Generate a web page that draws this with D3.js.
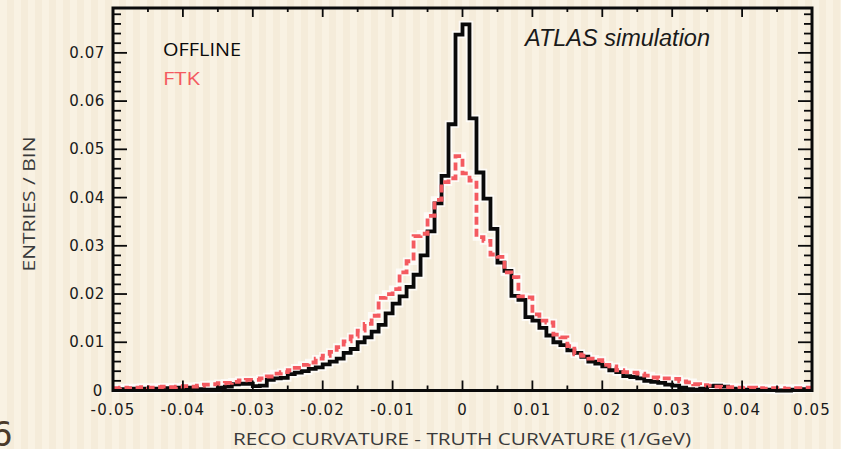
<!DOCTYPE html>
<html>
<head>
<meta charset="utf-8">
<script src="https://cdn.jsdelivr.net/npm/d3@7"></script>
<style>
  html, body { margin: 0; padding: 0; background: #f8f1e2; }
  svg { display: block; }
</style>
</head>
<body>
<svg id="chart" width="841" height="449"></svg>
<script>
"use strict";

// Data: 100 bins of 0.001 from -0.05 to 0.05
const BIN_START = -0.05;
const BIN_WIDTH = 0.001;
const OFFLINE = [
  0.0003, 0.0003, 0.0004, 0.0003, 0.0004, 0.0003, 0.0004, 0.0005, 0.0004, 0.0006,
  0.0005, 0.0006, 0.0003, 0.0002, 0.0002, 0.0006, 0.0008, 0.0013, 0.0014, 0.0014,
  0.0009, 0.0010, 0.0022, 0.0025, 0.0026, 0.0034, 0.0037, 0.0040, 0.0045, 0.0048,
  0.0054, 0.0060, 0.0066, 0.0078, 0.0086, 0.0100, 0.0110, 0.0122, 0.0136, 0.0160,
  0.0180, 0.0195, 0.0215, 0.0240, 0.0280, 0.0330, 0.0388, 0.0445, 0.0552, 0.0738,
  0.0759, 0.0564, 0.0452, 0.0398, 0.0335, 0.0265, 0.0248, 0.0196, 0.0188, 0.0152,
  0.0145, 0.0130, 0.0114, 0.0100, 0.0094, 0.0083, 0.0078, 0.0070, 0.0060, 0.0056,
  0.0050, 0.0042, 0.0038, 0.0030, 0.0028, 0.0025, 0.0020, 0.0018, 0.0016, 0.0012,
  0.0010, 0.0006, 0.0003, 0.0002, 0.0004, 0.0009, 0.0010, 0.0008, 0.0004, 0.0003,
  0.0002, 0.0003, 0.0002, 0.0002, 0.0001, 0.0000, 0.0000, 0.0002, 0.0003, 0.0003
];
const FTK = [
  0.0005, 0.0006, 0.0005, 0.0006, 0.0007, 0.0006, 0.0007, 0.0008, 0.0007, 0.0008,
  0.0009, 0.0008, 0.0010, 0.0012, 0.0013, 0.0015, 0.0016, 0.0018, 0.0021, 0.0022,
  0.0022, 0.0025, 0.0029, 0.0035, 0.0038, 0.0042, 0.0047, 0.0053, 0.0058, 0.0066,
  0.0072, 0.0080, 0.0090, 0.0102, 0.0112, 0.0124, 0.0138, 0.0155, 0.0192, 0.0200,
  0.0210, 0.0245, 0.0268, 0.0320, 0.0325, 0.0362, 0.0395, 0.0432, 0.0440, 0.0486,
  0.0450, 0.0435, 0.0318, 0.0310, 0.0282, 0.0277, 0.0245, 0.0235, 0.0195, 0.0193,
  0.0158, 0.0145, 0.0141, 0.0116, 0.0110, 0.0092, 0.0075, 0.0072, 0.0066, 0.0063,
  0.0053, 0.0050, 0.0042, 0.0038, 0.0037, 0.0035, 0.0031, 0.0027, 0.0025, 0.0025,
  0.0024, 0.0019, 0.0017, 0.0013, 0.0011, 0.0010, 0.0008, 0.0007, 0.0007, 0.0006,
  0.0005, 0.0006, 0.0005, 0.0004, 0.0005, 0.0005, 0.0004, 0.0005, 0.0005, 0.0006
];
const X_TICKS = [-0.05, -0.04, -0.03, -0.02, -0.01, 0, 0.01, 0.02, 0.03, 0.04, 0.05];
const Y_TICKS = [0, 0.01, 0.02, 0.03, 0.04, 0.05, 0.06, 0.07];

// Layout
const LEFT = 113, RIGHT = 812, TOP = 8, BOTTOM = 390.5;
const BLACK = "#0a0a0a";
const RED = "#f45a60";

const svg = d3.select("#chart");

// Background with faint vertical stripes
const defs = svg.append("defs");
const pat = defs.append("pattern")
  .attr("id", "stripes")
  .attr("patternUnits", "userSpaceOnUse")
  .attr("width", 14).attr("height", 449);
pat.append("rect").attr("width", 14).attr("height", 449).attr("fill", "#f9f2e3");
pat.append("rect").attr("x", 7).attr("width", 7).attr("height", 449).attr("fill", "#f5ecda");
svg.append("rect").attr("width", 841).attr("height", 449).attr("fill", "url(#stripes)");

// Scales
const x = d3.scaleLinear().domain([-0.05, 0.05]).range([LEFT, RIGHT]);
const y = d3.scaleLinear().domain([0, 0.0793]).range([BOTTOM, TOP]);

// Build step points for a histogram
function steps(vals) {
  const pts = vals.map((v, i) => [BIN_START + i * BIN_WIDTH, v]);
  pts.push([BIN_START + vals.length * BIN_WIDTH, vals[vals.length - 1]]);
  return pts;
}
const line = d3.line()
  .x(d => x(d[0]))
  .y(d => y(d[1]))
  .curve(d3.curveStepAfter);

const gPlot = svg.append("g");

// White halos
[FTK, OFFLINE].forEach(vals => {
  gPlot.append("path")
    .attr("d", line(steps(vals)))
    .attr("fill", "none")
    .attr("stroke", "#ffffff")
    .attr("stroke-opacity", 0.75)
    .attr("stroke-width", 7.5);
});

// OFFLINE (solid black)
gPlot.append("path")
  .attr("d", line(steps(OFFLINE)))
  .attr("fill", "none")
  .attr("stroke", BLACK)
  .attr("stroke-width", 3.8)
  .attr("stroke-linejoin", "miter");

// FTK (dashed red)
gPlot.append("path")
  .attr("d", line(steps(FTK)))
  .attr("fill", "none")
  .attr("stroke", RED)
  .attr("stroke-width", 3.8)
  .attr("stroke-dasharray", "8,4");

// Ticks
const gTicks = svg.append("g").attr("stroke", BLACK);
const yMinor = d3.range(0, 0.0791, 0.002);
yMinor.forEach(v => {
  const major = Math.abs(v / 0.01 - Math.round(v / 0.01)) < 1e-6;
  const len = major ? 14 : 8;
  gTicks.append("line").attr("x1", LEFT).attr("x2", LEFT + len)
    .attr("y1", y(v)).attr("y2", y(v)).attr("stroke-width", 1.8);
  gTicks.append("line").attr("x1", RIGHT).attr("x2", RIGHT - len)
    .attr("y1", y(v)).attr("y2", y(v)).attr("stroke-width", 1.8);
});
const xMinor = d3.range(-0.05, 0.0501, 0.005);
xMinor.forEach(v => {
  const major = Math.abs(v / 0.01 - Math.round(v / 0.01)) < 1e-6;
  const len = major ? 10 : 5;
  gTicks.append("line").attr("x1", x(v)).attr("x2", x(v))
    .attr("y1", BOTTOM).attr("y2", BOTTOM - len).attr("stroke-width", 1.8);
  gTicks.append("line").attr("x1", x(v)).attr("x2", x(v))
    .attr("y1", TOP).attr("y2", TOP + len - 1).attr("stroke-width", 1.8);
});

// Frame
svg.append("rect")
  .attr("x", LEFT).attr("y", TOP)
  .attr("width", RIGHT - LEFT).attr("height", BOTTOM - TOP)
  .attr("fill", "none").attr("stroke", BLACK).attr("stroke-width", 3);

// Tick labels
const font = "'DejaVu Sans', sans-serif";
svg.append("g").selectAll("text").data(X_TICKS).join("text")
  .attr("x", d => x(d))
  .attr("y", 415)
  .attr("text-anchor", "middle")
  .attr("font-family", font)
  .attr("font-size", 15)
  .attr("letter-spacing", 1.2)
  .attr("fill", "#1a1a1a")
  .text(d => d === 0 ? "0" : d3.format(".2f")(d).replace("−", "-"));

svg.append("g").selectAll("text").data(Y_TICKS).join("text")
  .attr("x", d => d === 0 ? 103 : 105)
  .attr("y", d => y(d) + 5)
  .attr("text-anchor", "end")
  .attr("font-family", font)
  .attr("font-size", 15)
  .attr("letter-spacing", 0.6)
  .attr("fill", "#1a1a1a")
  .text(d => d === 0 ? "0" : d3.format(".2f")(d));

// Axis titles
svg.append("text")
  .attr("x", 462).attr("y", 445)
  .attr("text-anchor", "middle")
  .attr("font-family", "'Open Sans', sans-serif")
  .attr("font-size", 17)
  .attr("textLength", 458)
  .attr("lengthAdjust", "spacingAndGlyphs")
  .attr("fill", "#3a3a3a")
  .text("RECO CURVATURE - TRUTH CURVATURE (1/GeV)");

svg.append("text")
  .attr("transform", "translate(35,204) rotate(-90)")
  .attr("text-anchor", "middle")
  .attr("font-family", "'Open Sans', sans-serif")
  .attr("font-size", 17)
  .attr("textLength", 135)
  .attr("lengthAdjust", "spacingAndGlyphs")
  .attr("fill", "#3a3a3a")
  .text("ENTRIES / BIN");

// Legend and label
svg.append("text")
  .attr("x", 163).attr("y", 56)
  .attr("font-family", "'Open Sans', sans-serif")
  .attr("font-size", 19)
  .attr("textLength", 78)
  .attr("lengthAdjust", "spacingAndGlyphs")
  .attr("fill", BLACK)
  .text("OFFLINE");
svg.append("text")
  .attr("x", 163).attr("y", 85)
  .attr("font-family", "'Open Sans', sans-serif")
  .attr("font-size", 19)
  .attr("textLength", 37)
  .attr("lengthAdjust", "spacingAndGlyphs")
  .attr("fill", RED)
  .text("FTK");
svg.append("text")
  .attr("x", 525).attr("y", 46)
  .attr("font-family", "'Liberation Sans', Arial, sans-serif")
  .attr("font-style", "italic")
  .attr("font-size", 23)
  .attr("textLength", 185)
  .attr("lengthAdjust", "spacingAndGlyphs")
  .attr("fill", "#1a1a1a")
  .text("ATLAS simulation");

// Stray slide glyph at lower left
svg.append("text")
  .attr("x", -9).attr("y", 446)
  .attr("font-family", "'DejaVu Sans', sans-serif")
  .attr("font-size", 34)
  .attr("fill", "#4a3a2a")
  .text("6");
</script>
</body>
</html>
